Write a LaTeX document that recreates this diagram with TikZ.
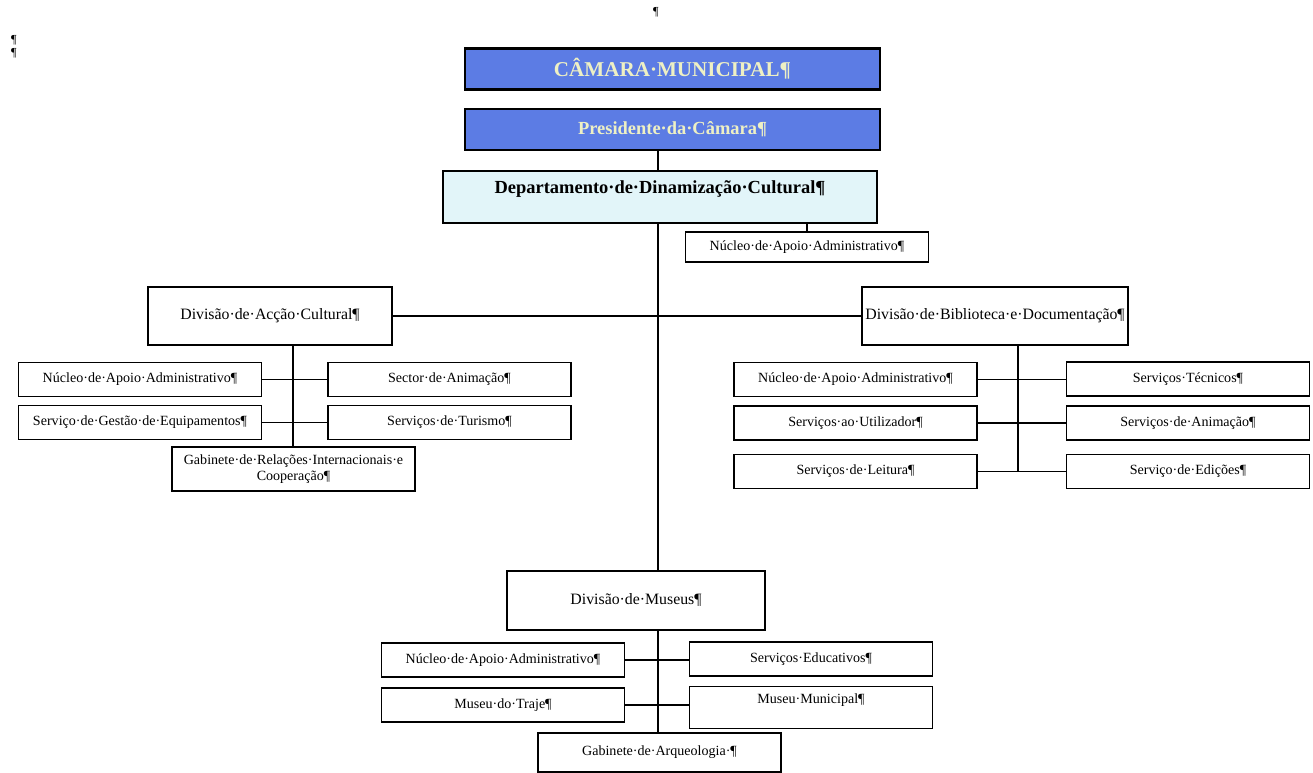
\documentclass[tikz,border=0pt]{standalone}
\usepackage{fontspec}
\setmainfont{Liberation Serif}
\usetikzlibrary{positioning,calc}
\definecolor{camblue}{RGB}{92,124,228}
\definecolor{camtxt}{RGB}{238,240,196}
\definecolor{deptfill}{RGB}{226,245,249}
\tikzstyle{topbox}=[draw=black,line width=1.2pt,fill=camblue,text=camtxt,inner sep=0pt,minimum width=8.3cm,minimum height=0.82cm]
\tikzstyle{deptbox}=[draw=black,line width=1.2pt,fill=deptfill,inner sep=0pt,font=\bfseries\fontsize{10.5}{12}\selectfont]
\tikzstyle{divbox}=[draw=black,line width=1pt,fill=white,inner sep=0pt,minimum height=1.16cm,font=\fontsize{9}{11}\selectfont]
\tikzstyle{subbox}=[draw=black,line width=0.8pt,fill=white,inner sep=0pt,minimum width=4.86cm,minimum height=0.68cm,align=center,font=\fontsize{8}{9.5}\selectfont]
\tikzstyle{link} = [draw,line width=0.9pt]
\tikzstyle{trunk} = [draw,line width=1.7pt]
\tikzstyle{pilcrow} = [inner sep=0pt,font=\fontsize{7}{8}\selectfont]

\begin{document}
\begin{tikzpicture}[x=0.02cm,y=-0.02cm]
   \useasboundingbox (0,0) rectangle (1313,773);

   % stray paragraph marks
   \node[pilcrow] (pA) at (656,12) {¶};
   \node[pilcrow] (pB) at (14,40) {¶};
   \node[pilcrow] (pC) at (14,53) {¶};

   % top of the chart
   \node[topbox,font=\bfseries\fontsize{12}{14}\selectfont] (camara) at (672.5,69) {CÂMARA·MUNICIPAL¶};
   \node[topbox,font=\bfseries\fontsize{10.5}{12}\selectfont] (presidente) at (672.5,129.5) {Presidente·da·Câmara¶};
   \node[deptbox,anchor=north,minimum width=8.68cm,text height=0.44cm,text depth=0.6cm] (depto) at (660,170) {Departamento·de·Dinamização·Cultural¶};
   \node[subbox,minimum height=0.6cm] (nucDep) at (807,247) {Núcleo·de·Apoio·Administrativo¶};

   % divisions
   \node[divbox,minimum width=4.88cm] (divAc) at (270,316) {Divisão·de·Acção·Cultural¶};
   \node[divbox,minimum width=5.32cm] (divBib) at (995,316) {Divisão·de·Biblioteca·e·Documentação¶};
   \node[divbox,minimum width=5.16cm,minimum height=1.18cm] (divMus) at (636,600.5) {Divisão·de·Museus¶};

   % services of each division
   \foreach \pos/ \name/ \txt in {{(140,379.5)/nucAc/Núcleo·de·Apoio·Administrativo¶},
        {(449.5,379.5)/sectAn/Sector·de·Animação¶},
        {(140,422.5)/gestEq/Serviço·de·Gestão·de·Equipamentos¶},
        {(449.5,422.5)/turismo/Serviços·de·Turismo¶},
        {(855.5,379.5)/nucBib/Núcleo·de·Apoio·Administrativo¶},
        {(1188,379)/tecnicos/Serviços·Técnicos¶},
        {(855.5,423)/utiliz/Serviços·ao·Utilizador¶},
        {(1188,423)/animBib/Serviços·de·Animação¶},
        {(855.5,471.5)/leitura/Serviços·de·Leitura¶},
        {(1188,471.5)/edicoes/Serviço·de·Edições¶},
        {(503,660)/nucMus/Núcleo·de·Apoio·Administrativo¶},
        {(811,659)/educ/Serviços·Educativos¶},
        {(503,705)/traje/Museu·do·Traje¶}}
        \node[subbox] (\name) at \pos {\txt};

   \node[subbox,minimum height=0.88cm] (gabRel) at (293.5,469) {Gabinete·de·Relações·Internacionais·e\\Cooperação¶};
   \node[subbox,anchor=north,text height=0.34cm,text depth=0.5cm] (municipal) at (811,686) {Museu·Municipal¶};
   \node[subbox,minimum height=0.78cm] (arqueo) at (659.5,752.5) {Gabinete·de·Arqueologia·¶};

   \coordinate (mtrunk) at (658,0);
   \coordinate (ltrunk) at (293,0);
   \coordinate (rtrunk) at (1018,0);

   % main line
   \path[trunk] (presidente.south -| mtrunk) -- (depto.north -| mtrunk);
   \path[trunk] (depto.south -| mtrunk) -- (divMus.north -| mtrunk);
   \path[trunk] (divAc) -- (divBib);
   \path[link] (depto.south -| nucDep.north) -- (nucDep.north);

   % division trunks
   \path[link] (divAc.south -| ltrunk) -- (gabRel.north -| ltrunk);
   \path[link] (divBib.south -| rtrunk) -- (leitura.east -| rtrunk);
   \path[link] (divMus.south -| mtrunk) -- (arqueo.north -| mtrunk);

   % branches
   \foreach \source/ \dest in {nucAc/sectAn, gestEq/turismo, nucBib/tecnicos, utiliz/animBib,
        leitura/edicoes, nucMus/educ, traje/municipal}
        \path[link] (\source.east) -- (\source.east -| \dest.west);

\end{tikzpicture}
\end{document}
